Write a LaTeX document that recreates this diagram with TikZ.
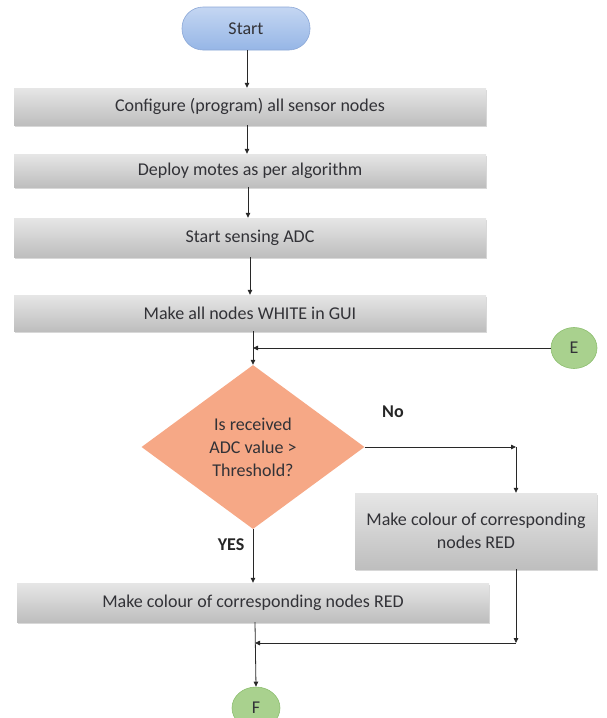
\documentclass[tikz,border=0pt]{standalone}
\usepackage{fontspec}
\setmainfont{Carlito}
\usetikzlibrary{arrows.meta,shapes.geometric,shadows}

\definecolor{txt}{RGB}{50,50,55}
\definecolor{boxtop}{RGB}{230,230,230}
\definecolor{boxbot}{RGB}{190,190,190}
\definecolor{pilltop}{RGB}{196,214,242}
\definecolor{pillbot}{RGB}{150,182,230}
\definecolor{pillline}{RGB}{140,168,215}
\definecolor{decfill}{RGB}{246,168,134}
\definecolor{conn}{RGB}{169,209,142}
\definecolor{connline}{RGB}{140,190,110}
\definecolor{wire}{RGB}{40,40,40}

\tikzset{
  every node/.style={font=\fontsize{18}{23}\selectfont, text=txt},
  pill/.style={rectangle, rounded corners=21pt, minimum width=128pt, minimum height=43pt,
    top color=pilltop, bottom color=pillbot, draw=pillline, line width=0.6pt},
  procbox/.style={rectangle, top color=boxtop, bottom color=boxbot, minimum width=472pt,
    draw=none, drop shadow={shadow xshift=1pt, shadow yshift=-1.5pt, fill=black!30, opacity=0.5}},
  decision/.style={diamond, minimum width=223pt, minimum height=164pt, inner sep=0pt,
    fill=decfill, align=center},
  connector/.style={ellipse, minimum width=46pt, minimum height=41pt, inner sep=0pt,
    fill=conn, draw=connline, line width=0.6pt},
  flow/.style={draw=wire, line width=0.8pt, -{Triangle[length=5pt,width=4.5pt]}},
  lbl/.style={font=\fontsize{18}{23}\selectfont\bfseries, text=black!85}
}

\begin{document}
\begin{tikzpicture}[x=1pt,y=-1pt]
  \useasboundingbox (0,0) rectangle (606,718);

  % start terminal
  \node[pill] (start) at (246,28.5) {Start};

  % main sequence of steps
  \node[procbox, minimum height=37pt] (b1) at (250,106.5) {Configure (program) all sensor nodes};
  \node[procbox, minimum height=33pt] (b2) at (250,170.5) {Deploy motes as per algorithm};
  \node[procbox, minimum height=39pt] (b3) at (250,237.5) {Start sensing ADC};
  \node[procbox, minimum height=36pt] (b4) at (250,313) {Make all nodes WHITE in GUI};

  % decision
  \node[decision] (dec) at (253,447) {Is received\\ADC value >\\Threshold?};

  % branch boxes
  \node[procbox, minimum width=242pt, minimum height=76pt, align=center] (b5) at (476,531)
    {Make colour of corresponding\\nodes RED};
  \node[procbox, minimum height=39pt] (b6) at (253,602.5)
    {Make colour of corresponding nodes RED};

  % off-page connectors
  \node[connector] (E) at (574,348) {E};
  \node[connector, minimum width=48pt, minimum height=42pt] (F) at (256,708) {F};

  % helper points for the routed wires
  \coordinate (jE) at (253,348);
  \coordinate (noturn) at (516,447);
  \coordinate (mergeR) at (516,643);
  \coordinate (mergeL) at (255,643);

  % sequence arrows
  \draw[flow] (start.south -| 247,0) -- (b1.north -| 247,0);
  \draw[flow] (b1.south -| 247,0) -- (b2.north -| 247,0);
  \draw[flow] (b2.south -| 248,0) -- (b3.north -| 248,0);
  \draw[flow] (b3.south -| 250,0) -- (b4.north -| 250,0);
  \draw[flow] (b4.south -| dec.north) -- (dec.north);
  \draw[flow] (E.west) -- (jE);

  % No branch
  \draw[flow] (dec.east) -- (noturn);
  \draw[flow] (noturn) -- (b5.north -| noturn);
  \node[lbl] (no) at (393,412) {No};

  % YES branch
  \draw[flow] (dec.south) -- (b6.north -| dec.south);
  \node[lbl] (yes) at (231,545) {YES};

  % merge to F
  \draw[flow] (b5.south -| noturn) -- (mergeR);
  \draw[flow] (mergeR) -- (mergeL);
  \draw[flow] (b6.south -| mergeL) -- (F.north);
\end{tikzpicture}
\end{document}
